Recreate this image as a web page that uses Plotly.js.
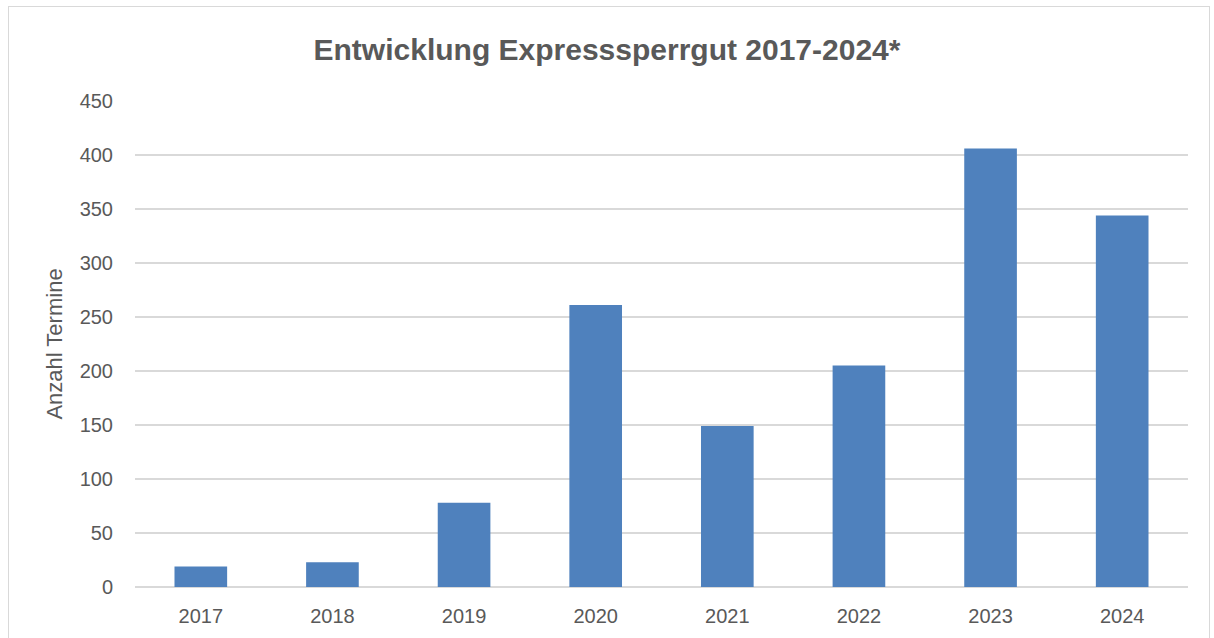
<!DOCTYPE html>
<html>
<head>
<meta charset="utf-8">
<script src="https://cdn.plot.ly/plotly-3.0.1.min.js"></script>
<style>
  html, body { margin: 0; padding: 0; background: #fff; }
  #frame {
    position: absolute; left: 8px; top: 6px; width: 1202px; height: 640px;
    border: 1px solid #d9d9d9; box-sizing: border-box;
  }
  #chart { position: absolute; left: 0; top: 0; width: 1214px; height: 638px; }
</style>
</head>
<body>
<div id="frame"></div>
<div id="chart"></div>
<script>
// values
const years = ['2017', '2018', '2019', '2020', '2021', '2022', '2023', '2024'];
const termine = [19, 23, 78, 261, 149, 205, 406, 344];
const yTicks = [0, 50, 100, 150, 200, 250, 300, 350, 400, 450];

const FONT = '"Liberation Sans Narrow", "Arial Narrow", "Liberation Sans", Arial, sans-serif';
const GREY = '#595959';

let trace = {
    type: 'bar',
    x: years,
    y: termine,
    marker: { color: '#4f81bd' },
    hoverinfo: 'x+y'
};

let layout = {
    width: 1214,
    height: 638,
    paper_bgcolor: 'rgba(0,0,0,0)',
    plot_bgcolor: 'rgba(0,0,0,0)',
    margin: { l: 135, r: 26, t: 101, b: 51 },
    bargap: 0.6,
    showlegend: false,
    font: { family: FONT, color: GREY, size: 20 },
    title: {
        text: '<b>Entwicklung Expresssperrgut 2017-2024*</b>',
        font: { family: FONT, size: 30, color: GREY },
        x: 0.5, xanchor: 'center',
        y: 0.922, yanchor: 'middle'
    },
    xaxis: {
        type: 'category',
        showgrid: false,
        showline: false,
        zeroline: false,
        ticks: '',
        ticklabelstandoff: 15,
        tickfont: { family: FONT, size: 20, color: GREY }
    },
    yaxis: {
        range: [0, 450],
        tickvals: yTicks,
        showgrid: true,
        gridcolor: '#d9d9d9',
        gridwidth: 1.3,
        zeroline: true,
        zerolinecolor: '#d9d9d9',
        zerolinewidth: 1.3,
        showline: false,
        ticks: '',
        ticklabelstandoff: 21,
        tickfont: { family: FONT, size: 20, color: GREY },
        title: {
            text: 'Anzahl Termine',
            font: { family: FONT, size: 22, color: GREY },
            standoff: 10
        }
    }
};

Plotly.newPlot('chart', [trace], layout, { displayModeBar: false, staticPlot: true });
</script>
</body>
</html>
